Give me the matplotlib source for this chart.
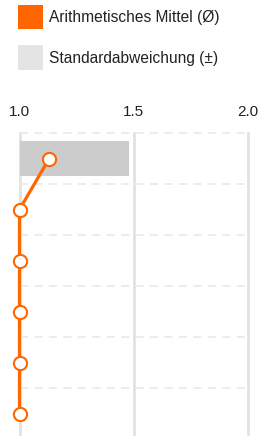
import matplotlib
matplotlib.use("Agg")
import matplotlib.pyplot as plt
from matplotlib.patches import Rectangle

plt.rcParams['font.family'] = ['Liberation Sans', 'DejaVu Sans']

categories = ["1", "2", "3", "4", "5", "6"]
means = [1.13, 1.0, 1.0, 1.0, 1.0, 1.0]
stds = [0.35, 0.0, 0.0, 0.0, 0.0, 0.0]
xticks = [1.0, 1.5, 2.0]
xticklabels = ["1.0", "1.5", "2.0"]
legend_labels = ["Arithmetisches Mittel (Ø)", "Standardabweichung (±)"]

W, H = 263, 436
fig = plt.figure(figsize=(W / 100, H / 100), dpi=100)

orange = "#ff6600"
band_color = "#cccccc"

# axes: x from px 19.5 to 248, y from px 133 to 436
left, right, top, bottom = 19.5, 248.0, 133.0, 436.0
ax = fig.add_axes([left / W, 1 - bottom / H, (right - left) / W, (bottom - top) / H])
row_px = 51.0
n = len(categories)
ypos = list(range(1, n + 1))
ax.set_xlim(1.0, 2.0)
ax.set_ylim(0.5 + (bottom - top) / row_px, 0.5)

for s in ax.spines.values():
    s.set_visible(False)

# vertical grid lines
for xv in xticks:
    ax.axvline(xv, color="#e2e2e2", lw=2, zorder=0, clip_on=False)
# horizontal dashed lines
for k in range(n):
    ax.axhline(k + 0.5, color="#ebebeb", lw=1.3, dashes=(4.5, 3.5), zorder=0, xmax=0.985, clip_on=False)

# std bands
for y, m, s in zip(ypos, means, stds):
    if s > 0:
        lo = max(m - s, 1.0)
        hi = m + s
        ax.barh(y, hi - lo, left=lo, height=0.7, color=band_color, zorder=1)

ax.plot(means, ypos, color=orange, lw=2.3, zorder=3, clip_on=False,
        marker="o", markersize=9.5, markerfacecolor="white",
        markeredgecolor=orange, markeredgewidth=1.5)

ax.set_xticks(xticks)
ax.set_xticklabels(xticklabels)
ax.xaxis.tick_top()
ax.tick_params(axis="x", length=0, pad=10, labelsize=11, labelcolor="#222222")
ax.set_yticks([])

# legend
def px_rect(x0, y0, w, h, color):
    fig.add_artist(Rectangle((x0 / W, 1 - (y0 + h) / H), w / W, h / H,
                             transform=fig.transFigure, facecolor=color, edgecolor="none"))

px_rect(18, 5, 25, 24, orange)
fig.text(49 / W, 1 - 17.5 / H, legend_labels[0], fontsize=11.2, va="center", ha="left", color="#222222")
px_rect(18, 45, 25, 25, "#e4e4e4")
fig.text(49 / W, 1 - 58 / H, legend_labels[1], fontsize=11.2, va="center", ha="left", color="#222222")

fig.savefig("out.png", dpi=100)
